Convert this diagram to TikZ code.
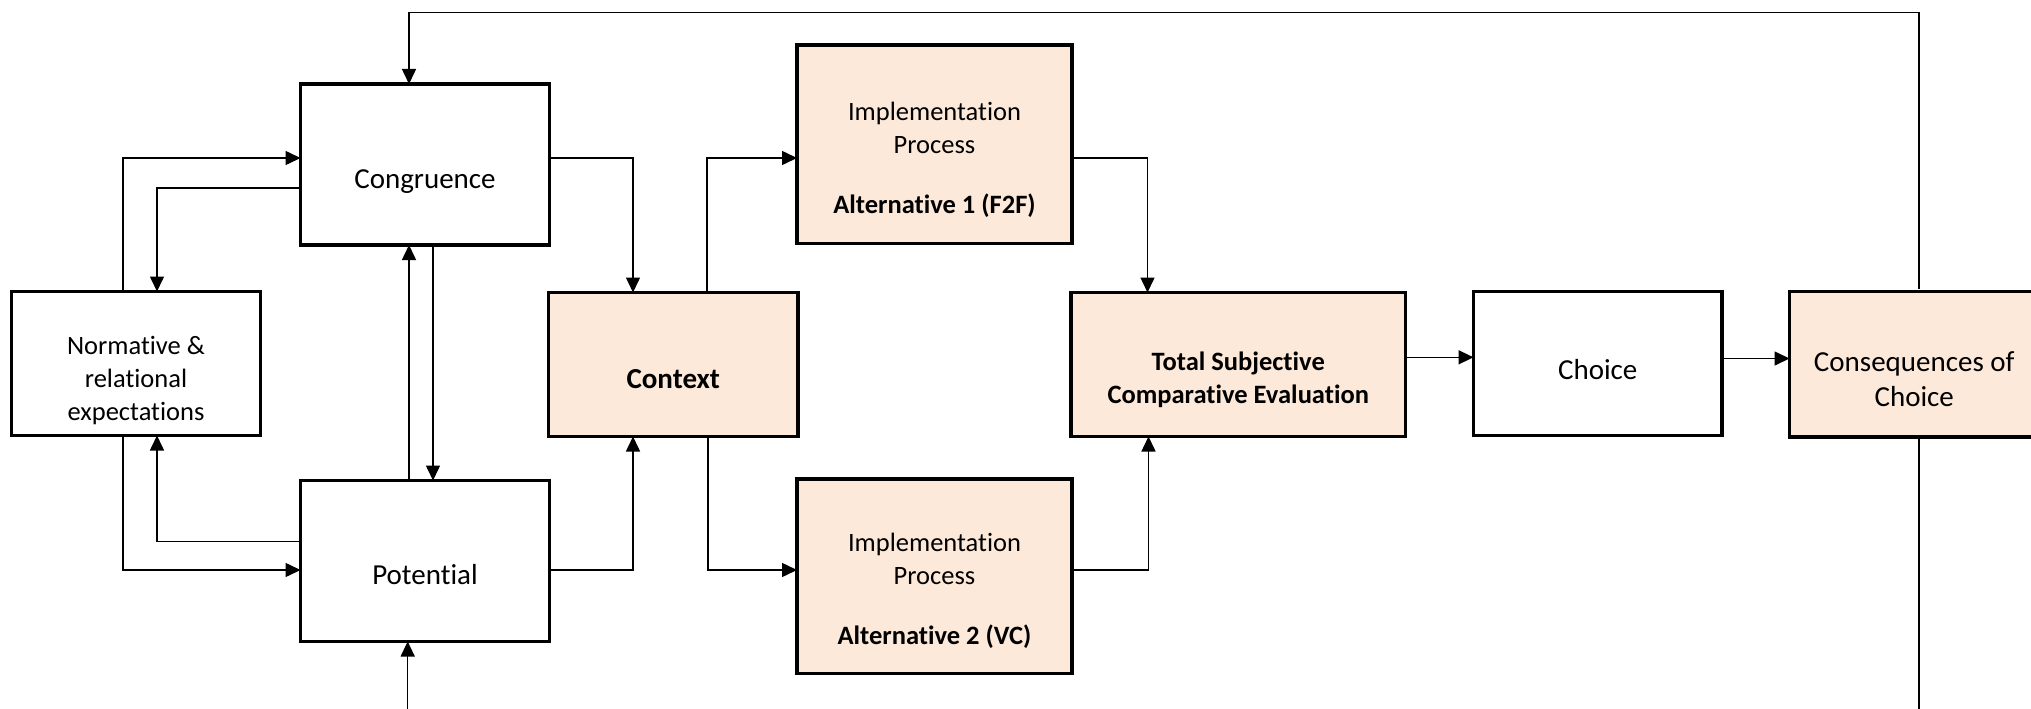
\documentclass[tikz,border=0pt]{standalone}
\usepackage{fontspec}
\setmainfont{Carlito}[Ligatures=NoCommon]
\usetikzlibrary{arrows.meta}
\definecolor{peach}{HTML}{FCE9DA}
\tikzset{
  box/.style={draw=black, line width=3.2pt, fill=white, inner sep=0pt, outer sep=0pt},
  peachbox/.style={box, fill=peach},
  lbl/.style={align=center, inner sep=0pt, font=\fontsize{29}{35}\selectfont},
  lblsm/.style={align=center, inner sep=0pt, font=\fontsize{26.5}{33}\selectfont},
  conn/.style={draw=black, line width=1.5pt, -{Triangle[length=15pt,width=14pt]}},
  wire/.style={draw=black, line width=1.5pt},
}
\begin{document}
\begin{tikzpicture}[x=1pt, y=-1pt]
\useasboundingbox (0,0) rectangle (2031,709);
\clip (0,0) rectangle (2031,709);
\fill[white] (0,0) rectangle (2031,709);

% boxes
\node[box, minimum width=249pt, minimum height=144pt] (norm) at (136,363.5) {};
\node[box, minimum width=249pt, minimum height=161pt] (cong) at (425,164.5) {};
\node[box, minimum width=249pt, minimum height=161pt] (pot) at (425,561) {};
\node[peachbox, minimum width=249.5pt, minimum height=144pt] (ctx) at (673.25,364.5) {};
\node[peachbox, minimum width=275pt, minimum height=198.5pt] (imp1) at (934.5,144.25) {};
\node[peachbox, minimum width=275pt, minimum height=194.5pt] (imp2) at (934.5,576.25) {};
\node[peachbox, minimum width=334.5pt, minimum height=144pt] (tot) at (1238.25,364.5) {};
\node[box, minimum width=248.5pt, minimum height=144pt] (cho) at (1597.75,363.5) {};
\node[peachbox, minimum width=249.5pt, minimum height=145.5pt] (con) at (1914.25,364.25) {};

% labels
\node[lblsm] (normT) at (136,381) {Normative \&\\relational\\expectations};
\node[lbl] (congT) at (425,181.5) {Congruence};
\node[lbl] (potT) at (425,575) {Potential};
\node[lbl, font=\fontsize{29}{35}\selectfont\bfseries] (ctxT) at (673.25,379) {Context};
\node[lblsm] (imp1T) at (934.5,159.5) {Implementation\\Process\\[27pt]\textbf{Alternative 1 (F2F)}};
\node[lblsm] (imp2T) at (934.5,591) {Implementation\\Process\\[27pt]\textbf{Alternative 2 (VC)}};
\node[lblsm, font=\fontsize{26.5}{33}\selectfont\bfseries] (totT) at (1238.25,379.5) {Total Subjective\\Comparative Evaluation};
\node[lbl] (choT) at (1597.75,370) {Choice};
\node[lbl] (conT) at (1914.25,379.5) {Consequences of\\Choice};

% bend points of the connectors
\coordinate (fbR) at (1919,12.7);
\coordinate (fbL) at (409,12.7);
\coordinate (fbB) at (1919,709);
\coordinate (nc1) at (122.8,158);
\coordinate (cn1) at (157,188);
\coordinate (pn1) at (157,541.7);
\coordinate (np1) at (122.8,570);
\coordinate (dn) at (433,0);
\coordinate (bot) at (407.7,709);
\coordinate (cc1) at (633,158);
\coordinate (pc1) at (633,570);
\coordinate (ci1) at (707,158);
\coordinate (ci2) at (708,570);
\coordinate (it1) at (1147.5,158);
\coordinate (it2) at (1148.5,570);
\coordinate (tc) at (0,357.3);
\coordinate (chc) at (0,358.5);

% connectors
\draw[conn] (norm.north -| nc1) -- (nc1) -- (cong.west |- nc1);
\draw[conn] (cong.west |- cn1) -- (cn1) -- (norm.north -| cn1);
\draw[conn] (pot.north -| fbL) -- (cong.south -| fbL);
\draw[conn] (cong.south -| dn) -- (pot.north -| dn);
\draw[conn, shorten <=3pt] (con.north -| fbR) -- (fbR) -- (fbL) -- (cong.north -| fbL);
\draw[conn] (pot.west |- pn1) -- (pn1) -- (norm.south -| pn1);
\draw[conn] (norm.south -| np1) -- (np1) -- (pot.west |- np1);
\draw[conn] (bot) -- (pot.south -| bot);
\draw[conn] (cong.east |- cc1) -- (cc1) -- (ctx.north -| cc1);
\draw[conn] (pot.east |- pc1) -- (pc1) -- (ctx.south -| pc1);
\draw[conn] (ctx.north -| ci1) -- (ci1) -- (imp1.west |- ci1);
\draw[conn] (ctx.south -| ci2) -- (ci2) -- (imp2.west |- ci2);
\draw[conn] (imp1.east |- it1) -- (it1) -- (tot.north -| it1);
\draw[conn] (imp2.east |- it2) -- (it2) -- (tot.south -| it2);
\draw[conn] (tot.east |- tc) -- (cho.west |- tc);
\draw[conn] (cho.east |- chc) -- (con.west |- chc);
\draw[wire] (con.south -| fbB) -- (fbB);
\end{tikzpicture}
\end{document}
